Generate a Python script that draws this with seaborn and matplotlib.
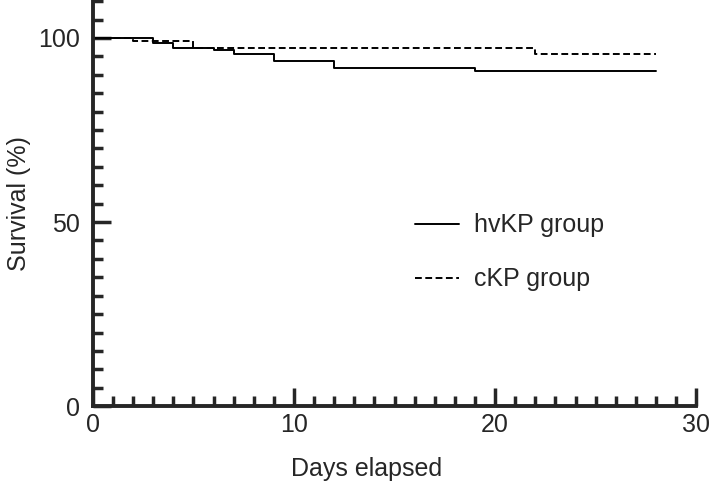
import pandas as pd
import matplotlib.pyplot as plt
import seaborn as sns
from matplotlib.ticker import MultipleLocator

# Kaplan-Meier steps
hv_days = [0, 3, 4, 6, 7, 9, 12, 19, 28]
hv_surv = [100, 98.5, 97.4, 96.6, 95.6, 93.7, 91.9, 91.1, 91.1]
ckp_days = [0, 2, 5, 22, 28]
ckp_surv = [100, 99.1, 97.2, 95.6, 95.6]
groups = ['hvKP group', 'cKP group']

df = pd.concat([
    pd.DataFrame({'day': hv_days, 'surv': hv_surv, 'group': groups[0]}),
    pd.DataFrame({'day': ckp_days, 'surv': ckp_surv, 'group': groups[1]}),
])

sns.set_style('ticks')
plt.rcParams['font.family'] = ['Liberation Sans', 'DejaVu Sans']

fig = plt.figure(figsize=(7.09, 4.83), dpi=100)
ax = fig.add_axes([0.131, 0.159, 0.851, 0.841])

sns.lineplot(data=df, x='day', y='surv', hue='group', style='group',
             hue_order=groups, style_order=groups,
             palette=['black', 'black'], dashes={groups[0]: '', groups[1]: (3.5, 1.8)},
             estimator=None, sort=False, drawstyle='steps-post',
             linewidth=1.4, ax=ax)

ax.set_xlim(0, 30)
ax.set_ylim(0, 110.3)
ax.set_xticks([0, 10, 20, 30])
ax.set_yticks([0, 50, 100])
ax.xaxis.set_minor_locator(MultipleLocator(1))
ax.yaxis.set_minor_locator(MultipleLocator(5))
ax.tick_params(which='major', direction='in', length=13, width=2.5, labelsize=18, pad=5)
ax.tick_params(axis='y', which='major', pad=9.5)
ax.tick_params(which='minor', direction='in', length=7.5, width=2.5)
for s in ['top', 'right']:
    ax.spines[s].set_visible(False)
for s in ['left', 'bottom']:
    ax.spines[s].set_linewidth(2.8)

ax.set_xlabel('Days elapsed', fontsize=18, labelpad=14)
ax.xaxis.set_label_coords(0.453, -0.125)
ax.set_ylabel('Survival (%)', fontsize=18, labelpad=5)

ax.legend(loc='upper left', bbox_to_anchor=(0.497, 0.53), frameon=False,
          fontsize=18, handlelength=1.75, handletextpad=0.6, labelspacing=1.2)

fig.savefig('out.png', dpi=100)
